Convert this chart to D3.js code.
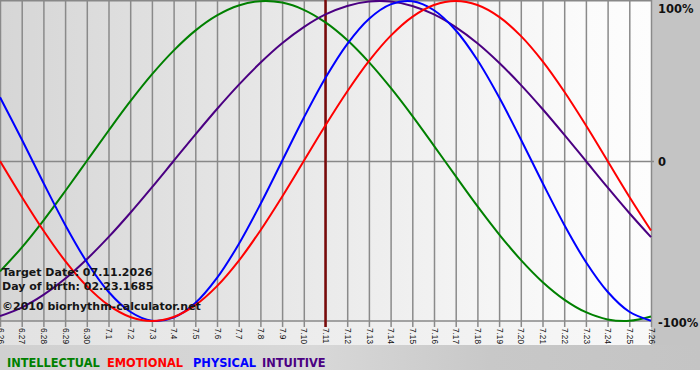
<!DOCTYPE html>
<html>
<head>
<meta charset="utf-8">
<script src="https://cdn.jsdelivr.net/npm/d3@7"></script>
<style>
  html, body { margin: 0; padding: 0; background: #ffffff; }
  svg { display: block; }
</style>
</head>
<body>
<svg id="chart" width="700" height="380"></svg>
<script>
// ---- data ----
const days = ["6.26","6.27","6.28","6.29","6.30","7.1","7.2","7.3","7.4","7.5","7.6","7.7","7.8","7.9","7.10",
  "7.11","7.12","7.13","7.14","7.15","7.16","7.17","7.18","7.19","7.20","7.21","7.22","7.23","7.24","7.25","7.26"];
const targetDay = "7.11";
const physical = [0.398,0.136,-0.136,-0.398,-0.631,-0.817,-0.942,-0.998,-0.979,-0.888,-0.731,-0.520,-0.270,0.000,0.270,
  0.520,0.731,0.888,0.979,0.998,0.942,0.817,0.631,0.398,0.136,-0.136,-0.398,-0.631,-0.817,-0.942,-0.998];
const emotional = [0.000,-0.223,-0.434,-0.624,-0.782,-0.901,-0.975,-1.000,-0.975,-0.901,-0.782,-0.624,-0.434,-0.223,0.000,
  0.223,0.434,0.624,0.782,0.901,0.975,1.000,0.975,0.901,0.782,0.624,0.434,0.223,0.000,-0.223,-0.434];
const intellectual = [-0.690,-0.541,-0.372,-0.189,0.000,0.189,0.372,0.541,0.690,0.815,0.910,0.972,0.999,0.990,0.945,
  0.866,0.756,0.618,0.458,0.282,0.095,-0.095,-0.282,-0.458,-0.618,-0.756,-0.866,-0.945,-0.990,-0.999,-0.972];
const intuitive = [-0.969,-0.916,-0.837,-0.736,-0.614,-0.476,-0.325,-0.165,0.000,0.165,0.325,0.476,0.614,0.736,0.837,
  0.916,0.969,0.997,0.997,0.969,0.916,0.837,0.736,0.614,0.476,0.325,0.165,0.000,-0.165,-0.325,-0.476];
const seriesNames = ["INTELLECTUAL","EMOTIONAL","PHYSICAL","INTUITIVE"];
const seriesColors = ["#008000","#ff0000","#0000ff","#4b0082"];
const yTickValues = [1, 0, -1];
const yTickLabels = ["100%", "0", "-100%"];
const infoLines = ["Target Date: 07.11.2026", "Day of birth: 02.23.1685", "\u00a92010 biorhythm-calculator.net"];

// ---- layout ----
const W = 700, H = 380;
const plotL = 0, plotR = 651, plotT = 1, plotB = 321;
const svg = d3.select("#chart");
const defs = svg.append("defs");

const g1 = defs.append("linearGradient").attr("id","plotBg").attr("x1","0").attr("x2","1").attr("y1","0").attr("y2","0");
g1.append("stop").attr("offset","0%").attr("stop-color","#d6d6d6");
g1.append("stop").attr("offset","90%").attr("stop-color","#fbfbfb");
g1.append("stop").attr("offset","100%").attr("stop-color","#fdfdfd");

const g3 = defs.append("linearGradient").attr("id","tickBg").attr("x1","0").attr("x2","1").attr("y1","0").attr("y2","0");
g3.append("stop").attr("offset","0%").attr("stop-color","#e2e2e2");
g3.append("stop").attr("offset","90%").attr("stop-color","#f6f6f6");
g3.append("stop").attr("offset","100%").attr("stop-color","#f8f8f8");

const g2 = defs.append("linearGradient").attr("id","legBg").attr("x1","0").attr("x2","1").attr("y1","0").attr("y2","0");
g2.append("stop").attr("offset","0%").attr("stop-color","#d0d0d0");
g2.append("stop").attr("offset","45%").attr("stop-color","#d8d8d8");
g2.append("stop").attr("offset","70%").attr("stop-color","#c8c8c8");
g2.append("stop").attr("offset","100%").attr("stop-color","#c4c4c4");

// backgrounds
svg.append("rect").attr("x",0).attr("y",0).attr("width",W).attr("height",370).attr("fill","#c4c4c4");
svg.append("rect").attr("x",0).attr("y",345).attr("width",W).attr("height",25).attr("fill","url(#legBg)");
svg.append("rect").attr("x",plotL).attr("y",0).attr("width",plotR-plotL).attr("height",plotB).attr("fill","url(#plotBg)");
svg.append("rect").attr("x",plotL).attr("y",plotB).attr("width",plotR-plotL).attr("height",345-plotB).attr("fill","url(#tickBg)");
svg.append("rect").attr("x",0).attr("y",370).attr("width",W).attr("height",10).attr("fill","#ffffff");

// scales
const x = d3.scaleLinear().domain([0, days.length-1]).range([plotL, plotR]);
const y = d3.scaleLinear().domain([-1, 1]).range([plotB, plotT]);
const idx = d3.range(days.length);

// vertical gridlines + ticks (bottom axis)
const xAxis = d3.axisBottom(x).tickValues(idx).tickFormat(i => days[i]).tickSize(6).tickSizeOuter(0);
const xg = svg.append("g").attr("transform",`translate(0,${plotB})`).call(xAxis);
xg.select(".domain").attr("stroke","#888").attr("stroke-width",1.5).attr("d",`M${plotL},0H${plotR}`);
xg.selectAll(".tick line").attr("stroke","#8a8a8a").attr("stroke-width",1.5).attr("y1",-(plotB-0));
xg.selectAll(".tick text")
  .attr("transform","rotate(90)")
  .attr("x",7).attr("y",0).attr("dy","0.35em")
  .attr("text-anchor","start")
  .attr("font-family","'Liberation Sans', Arial, sans-serif")
  .attr("font-size","8.2px")
  .attr("fill","#111");

// top border
svg.append("line").attr("x1",plotL).attr("x2",plotR).attr("y1",0.75).attr("y2",0.75).attr("stroke","#888").attr("stroke-width",1.5);

// right axis
const yAxis = d3.axisRight(y).tickValues(yTickValues).tickFormat((d,i) => yTickLabels[i]).tickSize(3).tickPadding(5);
const yg = svg.append("g").attr("transform",`translate(${plotR},0)`).call(yAxis);
yg.select(".domain").remove();
yg.selectAll(".tick line").attr("stroke","#888").attr("stroke-width",1.5).attr("x1",-(plotR-plotL));
yg.selectAll(".tick").filter(d => d !== 0).select("line").remove();
yg.selectAll(".tick text")
  .attr("font-family","'DejaVu Sans', Verdana, sans-serif")
  .attr("font-weight","bold")
  .attr("font-size","11.5px")
  .attr("fill","#111")
  .attr("x",7)
  .attr("dy", d => d === 1 ? "1.0em" : (d === -1 ? "0.45em" : "0.4em"));

// target line
const ti = days.indexOf(targetDay);
svg.append("line").attr("x1",x(ti)).attr("x2",x(ti)).attr("y1",0).attr("y2",plotB+6)
  .attr("stroke","#7a0a0a").attr("stroke-width",2.5);

// curves
const line = d3.line().x((d,i) => x(i)).y(d => y(d)).curve(d3.curveCatmullRom.alpha(0.5));
const allSeries = [intellectual, emotional, physical, intuitive];
const order = [0, 3, 2, 1];
order.forEach(k => {
  svg.append("path").datum(allSeries[k]).attr("d", line)
    .attr("fill","none").attr("stroke", seriesColors[k]).attr("stroke-width",2);
});

// info text
const infoY = [276, 290, 310];
infoLines.forEach((t,i) => {
  svg.append("text").attr("x",2).attr("y",infoY[i]).text(t)
    .attr("font-family","'DejaVu Sans', Verdana, sans-serif")
    .attr("font-weight","bold").attr("font-size","11px").attr("fill","#151515");
});

// legend
const legX = [7, 107, 193, 262];
seriesNames.forEach((n,i) => {
  svg.append("text").attr("x",legX[i]).attr("y",367).text(n)
    .attr("font-family","'DejaVu Sans', Verdana, sans-serif")
    .attr("font-weight","bold").attr("font-size","11.4px").attr("fill",seriesColors[i]);
});
</script>
</body>
</html>
